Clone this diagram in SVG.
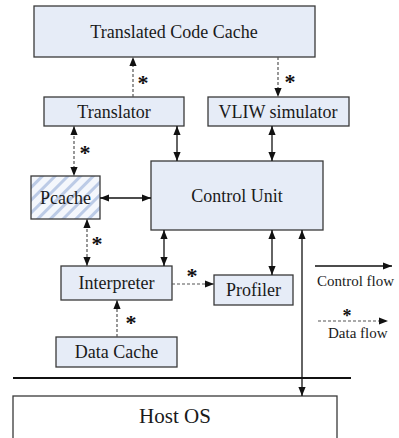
<svg xmlns="http://www.w3.org/2000/svg" width="399" height="438" viewBox="0 0 399 438">
  <style>
    .box { fill: #e6ecf7; stroke: #3a3a3a; stroke-width: 1.3; }
    .label { font-size: 18px; fill: #1a1a1a; text-anchor: middle; }
    .legend { font-size: 15px; fill: #1a1a1a; }
    .ctl { stroke: #111; stroke-width: 1.3; fill: none; }
    .data { stroke: #555; stroke-width: 1.2; stroke-dasharray: 3 2; fill: none; }
    .star { font-size: 22px; font-weight: bold; fill: #111; text-anchor: middle; }
  </style>
  <defs>
    <marker id="head" viewBox="0 0 10 8" refX="10" refY="4" markerWidth="9" markerHeight="7.5" markerUnits="userSpaceOnUse" orient="auto-start-reverse">
      <path d="M0,0 L10,4 L0,8 Z" fill="#111"/>
    </marker>
    <pattern id="hatch" width="9" height="9" patternUnits="userSpaceOnUse" patternTransform="rotate(45)">
      <rect width="9" height="9" fill="#f4f7fc"/>
      <rect width="3" height="9" fill="#bccbe6"/>
    </pattern>
  </defs>

  <g font-family="Liberation Serif, Tinos, Times New Roman, serif">
  <g id="translated-code-cache">
    <rect class="box" x="34" y="6" width="281" height="51"/>
    <text class="label" x="174" y="38">Translated Code Cache</text>
  </g>
  <g id="translator">
    <rect class="box" x="44" y="97" width="140" height="29"/>
    <text class="label" x="114" y="118">Translator</text>
  </g>
  <g id="vliw-simulator">
    <rect class="box" x="208" y="97" width="141" height="29"/>
    <text class="label" x="278" y="118">VLIW simulator</text>
  </g>
  <g id="pcache">
    <rect x="31" y="176" width="69" height="43" fill="url(#hatch)" stroke="#3a3a3a" stroke-width="1.3"/>
    <text class="label" x="65.5" y="204">Pcache</text>
  </g>
  <g id="control-unit">
    <rect class="box" x="151" y="161" width="172" height="69"/>
    <text class="label" x="237" y="202">Control Unit</text>
  </g>
  <g id="interpreter">
    <rect class="box" x="61" y="266" width="111" height="34"/>
    <text class="label" x="116.5" y="289">Interpreter</text>
  </g>
  <g id="profiler">
    <rect class="box" x="214" y="275" width="79" height="30"/>
    <text class="label" x="253.5" y="296">Profiler</text>
  </g>
  <g id="data-cache">
    <rect class="box" x="56" y="337" width="121" height="30"/>
    <text class="label" x="116.5" y="358">Data Cache</text>
  </g>
  <g id="host-os">
    <rect x="13" y="396" width="324" height="50" fill="#ffffff" stroke="#3a3a3a" stroke-width="1.3"/>
    <text class="label" x="175" y="423" style="font-size:21px">Host OS</text>
  </g>

  <!-- boundary between the emulator and the host -->
  <line x1="13" y1="378" x2="351" y2="378" stroke="#111" stroke-width="2"/>

  <g id="connectors">
    <!-- control flow -->
    <line class="ctl" x1="177" y1="126" x2="177" y2="161" marker-start="url(#head)" marker-end="url(#head)"/>
    <line class="ctl" x1="272" y1="126" x2="272" y2="161" marker-start="url(#head)" marker-end="url(#head)"/>
    <line class="ctl" x1="100" y1="198" x2="151" y2="198" marker-start="url(#head)" marker-end="url(#head)"/>
    <line class="ctl" x1="164" y1="230" x2="164" y2="266" marker-start="url(#head)" marker-end="url(#head)"/>
    <line class="ctl" x1="272" y1="230" x2="272" y2="275" marker-start="url(#head)" marker-end="url(#head)"/>
    <line class="ctl" x1="302" y1="230" x2="302" y2="396" marker-start="url(#head)" marker-end="url(#head)"/>

    <!-- data flow -->
    <line class="data" x1="133" y1="97" x2="133" y2="57" marker-end="url(#head)"/>
    <text class="star" x="143" y="90">*</text>
    <line class="data" x1="278" y1="57" x2="278" y2="97" marker-end="url(#head)"/>
    <text class="star" x="290" y="89">*</text>
    <line class="data" x1="74" y1="126" x2="74" y2="176" marker-start="url(#head)" marker-end="url(#head)"/>
    <text class="star" x="85" y="160">*</text>
    <line class="data" x1="87" y1="219" x2="87" y2="266" marker-start="url(#head)" marker-end="url(#head)"/>
    <text class="star" x="97" y="251">*</text>
    <line class="data" x1="172" y1="284" x2="214" y2="284" marker-end="url(#head)"/>
    <text class="star" x="192" y="283">*</text>
    <line class="data" x1="117" y1="337" x2="117" y2="300" marker-end="url(#head)"/>
    <text class="star" x="131" y="330">*</text>
  </g>

  <g id="legend">
    <line class="ctl" x1="315" y1="266" x2="392" y2="266" marker-end="url(#head)"/>
    <text class="legend" x="317" y="286">Control flow</text>
    <line class="data" x1="318" y1="321" x2="388" y2="321" marker-end="url(#head)"/>
    <text class="star" x="347" y="322" style="font-size:18px">*</text>
    <text class="legend" x="328" y="338">Data flow</text>
  </g>
  </g>
</svg>
